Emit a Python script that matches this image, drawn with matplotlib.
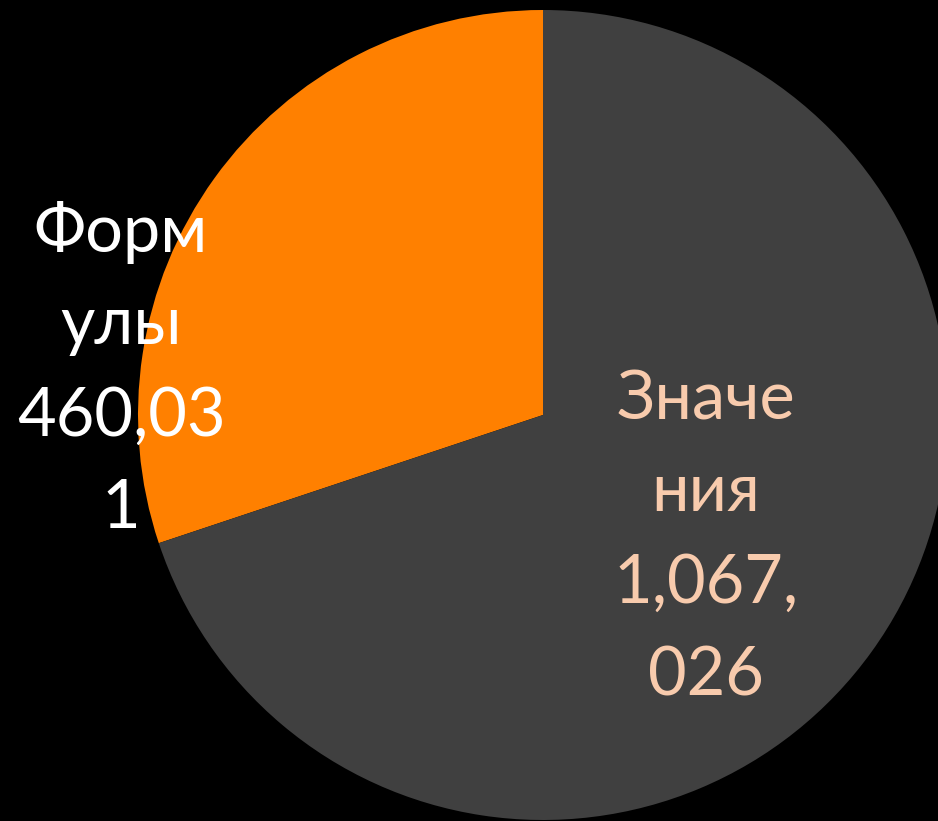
import matplotlib
matplotlib.use("Agg")
import matplotlib.pyplot as plt

categories = ["Формулы", "Значения"]
values = [460031, 1067026]
label_text = ["Форм\nулы\n460,03\n1", "Значе\nния\n1,067,\n026"]

BG = "#000000"
SLICE_COLORS = ["#FF8000", "#404040"]
TEXT_COLORS = ["#FFFFFF", "#F8CBAD"]

W, H = 938, 821
CX, CY, R = 543, 415, 405

fig = plt.figure(figsize=(W / 100, H / 100), dpi=100, facecolor=BG)
ax = fig.add_axes([0, 0, 1, 1])
ax.set_facecolor(BG)
ax.pie(values, colors=SLICE_COLORS, startangle=90, counterclock=True,
       radius=1.0, wedgeprops=dict(linewidth=0))
ax.set_xlim(-CX / R, (W - CX) / R)
ax.set_ylim(-(H - CY) / R, CY / R)
ax.set_aspect("equal")
ax.axis("off")

# label positions (pixel -> data)
pos = [(121, 370), (706, 538)]
for txt, (px, py), c in zip(label_text, pos, TEXT_COLORS):
    ax.text((px - CX) / R, (CY - py) / R, txt, color=c, fontsize=48,
            family=["Lato", "DejaVu Sans"], ha="center", va="center",
            multialignment="center", linespacing=1.6)

fig.savefig("out.png", dpi=100, facecolor=BG)
